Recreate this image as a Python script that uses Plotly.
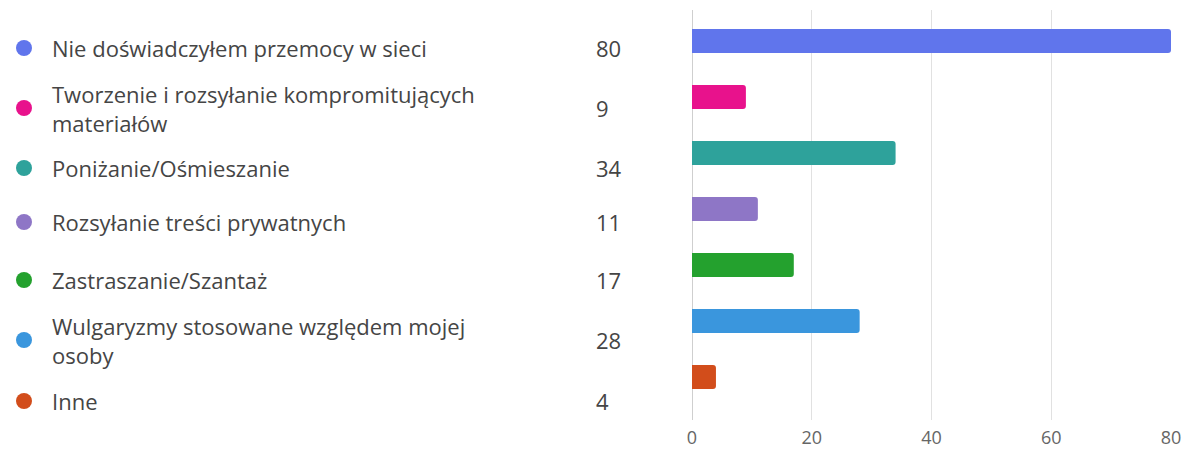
import plotly.graph_objects as go

categories = [
    "Nie doświadczyłem przemocy w sieci",
    "Tworzenie i rozsyłanie kompromitujących<br>materiałów",
    "Poniżanie/Ośmieszanie",
    "Rozsyłanie treści prywatnych",
    "Zastraszanie/Szantaż",
    "Wulgaryzmy stosowane względem mojej<br>osoby",
    "Inne",
]
values = [80, 9, 34, 11, 17, 28, 4]
colors = ["#6075ec", "#e8128c", "#2ea29b", "#8e76c6", "#24a12e", "#3a96dd", "#d24d1b"]
x_ticks = [0, 20, 40, 60, 80]

# layout geometry (pixels)
W_FIG, H_FIG = 1184, 449
L, R, T, B = 692, 13, 10, 29
PW = W_FIG - L - R
PH = H_FIG - T - B
legend_rows_px = [48, 108, 168, 222, 280, 340, 401]


def px2x(px):
    return (px - L) / PW


def py2y(py):
    return 1 - (py - T) / PH


ids = list(range(len(categories)))

fig = go.Figure(
    go.Bar(
        x=values,
        y=ids,
        orientation="h",
        marker=dict(color=colors, line=dict(width=0)),
        width=0.43,
        hoverinfo="x",
    )
)

font_family = "Open Sans, Noto Sans, sans-serif"
text_color = "#454545"

shapes = []
annotations = []
for i, (cat, val, col) in enumerate(zip(categories, values, colors)):
    py = legend_rows_px[i]
    r = 8
    shapes.append(
        dict(
            type="circle",
            xref="paper",
            yref="paper",
            x0=px2x(24 - r),
            x1=px2x(24 + r),
            y0=py2y(py + r),
            y1=py2y(py - r),
            fillcolor=col,
            line=dict(width=0),
            layer="above",
        )
    )
    annotations.append(
        dict(
            xref="paper",
            yref="paper",
            x=px2x(50),
            y=py2y(py),
            xanchor="left",
            yanchor="middle",
            text=cat,
            showarrow=False,
            align="left",
            font=dict(family=font_family, size=22, color=text_color),
        )
    )
    annotations.append(
        dict(
            xref="paper",
            yref="paper",
            x=px2x(594),
            y=py2y(py),
            xanchor="left",
            yanchor="middle",
            text=str(val),
            showarrow=False,
            font=dict(family=font_family, size=22, color=text_color),
        )
    )

fig.update_layout(
    width=W_FIG,
    height=H_FIG,
    margin=dict(l=L, r=R, t=T, b=B, pad=0, autoexpand=False),
    paper_bgcolor="white",
    plot_bgcolor="white",
    showlegend=False,
    barcornerradius=3,
    shapes=shapes,
    annotations=annotations,
    xaxis=dict(
        range=[0, 80],
        tickvals=x_ticks,
        ticktext=[str(t) for t in x_ticks],
        showgrid=True,
        gridcolor="#e1e1e1",
        gridwidth=1,
        zeroline=True,
        zerolinecolor="#cfcfcf",
        zerolinewidth=1,
        showline=False,
        ticks="",
        ticklabelstandoff=5,
        automargin=False,
        tickfont=dict(family=font_family, size=18, color="#666666"),
        fixedrange=True,
    ),
    yaxis=dict(
        range=[(H_FIG - B - 41) / 56, (T - 41) / 56],
        showticklabels=False,
        showgrid=False,
        zeroline=False,
        showline=False,
        ticks="",
        automargin=False,
        fixedrange=True,
    ),
)

fig.write_html(
    "out.html",
    config={"displayModeBar": False},
    post_script="document.body.style.margin='0';document.body.style.overflow='hidden';",
)
